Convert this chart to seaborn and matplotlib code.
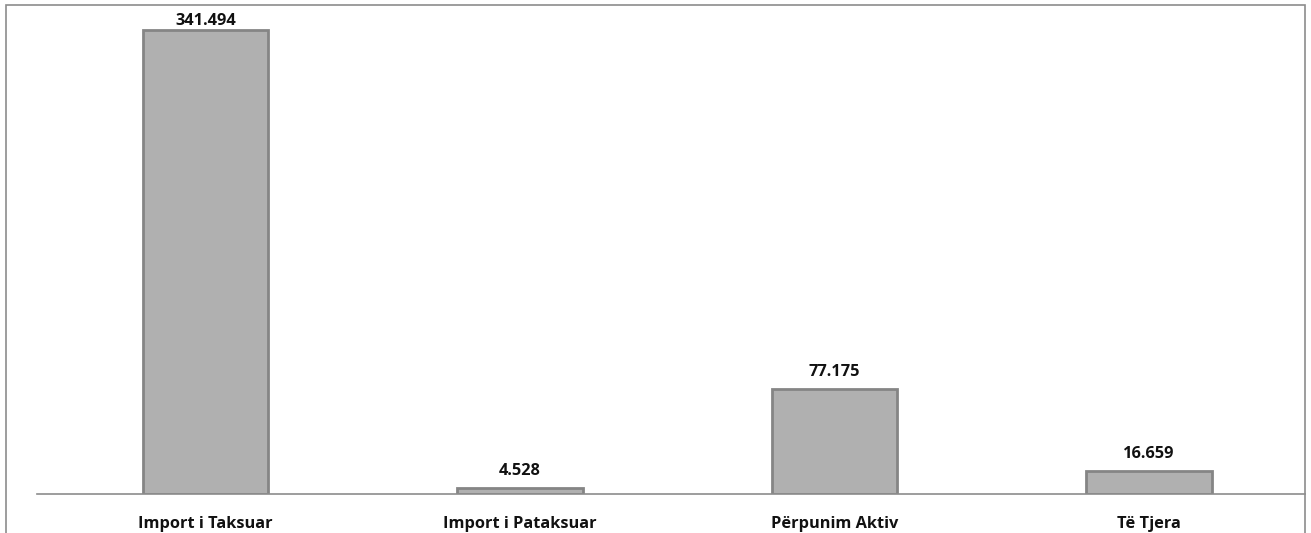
import matplotlib
matplotlib.use("Agg")
import matplotlib.pyplot as plt
import seaborn as sns
import pandas as pd
from matplotlib.patches import Rectangle

categories = ["Import i Taksuar", "Import i Pataksuar", "Përpunim Aktiv", "Të Tjera"]
values = [341.494, 4.528, 77.175, 16.659]
value_labels = ["341.494", "4.528", "77.175", "16.659"]

sns.set_style("white")
plt.rcParams['font.family'] = ['Open Sans', 'DejaVu Sans']

W, H = 1311, 533
fig = plt.figure(figsize=(W / 100, H / 100), dpi=100)

# outer chart frame
fig.add_artist(Rectangle((6 / W, -0.05), (1305 - 6) / W, 1 - 5 / H + 0.05,
                         transform=fig.transFigure, fill=False,
                         edgecolor="#8c8c8c", linewidth=1.2))

left, right = 37, 1305
bottom, top = 494, 5
ax = fig.add_axes([left / W, 1 - bottom / H, (right - left) / W, (bottom - top) / H])

df = pd.DataFrame({"cat": categories, "val": values})
sns.barplot(data=df, x="cat", y="val", ax=ax, color="#b0b0b0", width=0.4,
            edgecolor="#858585", linewidth=2.0, saturation=1)

ax.set_xlim(-0.536, 3.496)
ax.set_ylim(0, 360)
for s in ["top", "left", "right"]:
    ax.spines[s].set_visible(False)
ax.spines["bottom"].set_color("#8c8c8c")
ax.spines["bottom"].set_linewidth(1.2)
ax.set_yticks([])
ax.set_xlabel("")
ax.set_ylabel("")
ax.tick_params(axis="x", length=0, pad=15.5)
for t in ax.get_xticklabels():
    t.set_fontweight("bold")
    t.set_fontsize(11.8)
    t.set_color("#111111")
ax.set_facecolor("none")

vmax = max(values)
for i, (v, lab) in enumerate(zip(values, value_labels)):
    # the tallest label is squeezed under the frame, as in the original
    off = 1.0 if v == vmax else 6.5
    ax.annotate(lab, (i, v), xytext=(0, off), textcoords="offset points",
                ha="center", va="bottom", fontsize=11.8, fontweight="bold",
                color="#111111")

fig.savefig("out.png", dpi=100)
